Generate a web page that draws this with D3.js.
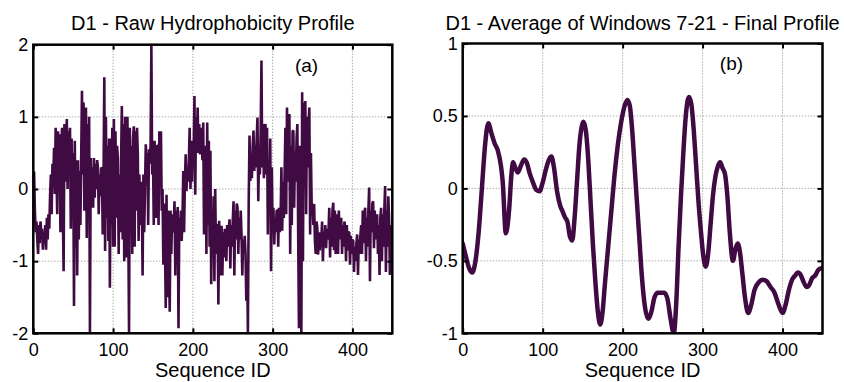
<!DOCTYPE html>
<html><head><meta charset="utf-8">
<script src="https://cdn.jsdelivr.net/npm/d3@7"></script>
<style>
body{margin:0;background:#fff}
svg{display:block}
text{font-family:"Liberation Sans",Arial,Helvetica,sans-serif;fill:#000}
</style>
</head><body>
<svg id="chart" width="844" height="382"></svg>
<script>
// ---------- data ----------
const rawValues = [
 0.23,-0.3,-0.6,-0.45,-0.7, -0.9,-0.5,-0.75,-0.45,-0.6, -0.55,-0.84,-0.6,-0.72,-0.5, -0.84,-0.4,-0.7,-0.35,-0.55,
 -0.1,0.2,-0.35,0.35,0.1, 0.57,-0.07,0.85,0.2,-0.35, 0.8,0.3,0.76,-0.6,0.5, 0.85,-0.3,-1.14,0.9,0.1,
 0.6,0.97,0.0,0.8,0.3, 0.85,-0.55,0.7,-0.2,0.5, -1.62,0.67,-0.8,0.4,-1.2, 0.4,-0.7,0.25,-0.5,0.38,
 1.36,0.2,1.2,-0.3,0.6, 1.13,-0.68,0.9,0.1,1.0, -2.0,0.43,-0.2,0.3,-0.26, 0.43,-0.12,0.35,0.0,0.4,
 0.3,-0.35,0.2,-0.1,0.28, 0.3,-0.63,0.1,1.55,-0.86, 1.0,-0.4,0.6,-0.72,0.7, -1.37,0.7,-0.5,0.85,-0.8,
 0.97,-0.8,0.8,-0.4,0.6, 0.43,-0.9,0.2,-0.6,0.35, 1.15,-0.7,0.9,-1.0,1.0, 0.8,-0.95,1.0,-0.4,-2.0,
 0.85,-0.5,0.6,-0.9,0.7, 0.87,-0.8,0.8,-0.3,0.85, 0.48,-0.72,0.2,-0.5,0.1, -0.1,-1.2,0.2,-0.6,0.0,
 0.62,0.3,0.5,-0.5,0.55, 0.35,0.6,2.0,0.2,0.5, -0.5,0.67,0.2,-0.4,0.6, 0.6,-0.5,0.8,0.1,0.8,
 -0.3,0.0,-1.05,-0.2,-0.7, -1.65,-0.08,-1.5,-0.3,-0.9, -1.7,-0.3,-0.9,-0.35,-0.6, -0.5,-0.17,-1.2,-0.3,-0.7,
 -0.25,-1.93,-0.4,-0.6,-0.3, -0.72,-0.4,0.25,-0.6,0.1, 0.48,-0.03,0.3,0.1,0.4, 0.85,0.0,0.67,0.1,0.6,
 0.5,1.29,-0.08,1.0,0.5, 1.13,0.5,0.9,0.48,0.8, 0.85,0.4,0.92,-0.63,0.3, 0.6,-0.9,0.92,-0.5,0.67,
 -0.8,0.53,-1.32,-0.3,-0.9, -0.1,-1.28,0.0,-0.9,-0.5, -0.5,-1.6,-0.44,-1.2,-0.6, -0.51,-1.2,-0.6,-0.95,-0.55,
 -0.6,-1.0,-0.5,-0.8,-0.55, -0.42,-1.1,-0.5,-0.8,-0.45, -0.17,-1.2,-0.3,-0.7,-0.2, -0.26,-0.9,-0.4,-0.7,-0.3,
 -0.63,-1.2,-0.7,-0.9,-0.65, -0.9,-1.55,-1.0,-2.0,-0.2, 0.74,0.11,0.5,0.15,0.6, 0.81,0.25,0.6,0.3,0.7,
 0.99,-0.17,0.5,0.2,0.8, 1.78,0.3,0.9,0.15,0.85, 0.9,0.2,0.85,-0.63,0.4, -0.2,0.7,-1.14,0.3,-0.6,
 -0.26,-0.77,-0.4,-0.6,-0.3, -0.3,-0.8,-0.26,-0.6,-0.4, 0.3,-0.58,0.1,-0.4,0.2, 0.85,-0.35,1.13,0.1,0.9,
 1.04,-0.9,0.6,-0.5,0.8, 0.81,-0.26,0.5,0.1,0.7, 0.9,-0.6,-1.93,0.6,-1.2, -2.0,1.34,-1.0,1.2,0.4,
 1.22,-0.35,1.0,0.3,0.9, 1.13,-0.63,0.5,-0.3,-0.2, -0.5,-0.21,-0.72,-0.9,-0.45, -0.54,-0.91,-0.6,-0.85,-0.7,
 -0.7,-0.45,-1.0,-0.6,-0.8, -0.5,-0.82,-0.55,-0.7,-0.6, -0.26,-0.95,-0.4,-0.8,-0.3, -0.19,-0.85,-0.3,-0.9,-0.4,
 -0.35,-0.9,-0.3,-0.7,-0.45, -0.4,-0.9,-0.5,-0.8,-0.45, -0.55,-1.0,-0.5,-0.85,-0.6, -0.6,-1.05,-0.65,-0.9,-0.7,
 -0.72,-1.15,-0.8,-1.0,-0.75, -0.63,-1.19,-0.7,-0.9,-0.65, -0.5,-0.9,-0.3,-0.75,-0.35, -0.26,-1.0,-0.4,-0.8,-0.3,
 0.02,-1.28,-0.3,-0.6,-0.2, -0.17,-0.82,-0.3,-0.7,-0.4, -0.35,-0.9,-0.5,-1.19,-0.4, -0.26,-1.0,-0.35,-0.8,-0.3,
 0.04,-1.15,-0.3,-0.8,-0.1, -0.44,-1.19,-0.5,-0.9,-0.6
];
const smoothPositions = [0,4,8,12,16,20,24,28,32,36,40,44,48,50,54,58,61,63,66,69,73,77,80,84,88,92,96,100,104,108,111,114,118,122,125,128,131,134,137,140,143,146,149,151,154,157,160,163,166,169,172,175,178,182,186,190,194,198,202,206,209,212,215,218,221,224,228,232,236,240,244,248,252,256,260,264,267,270,273,276,279,283,286,289,292,295,298,301,304,307,310,313,316,319,322,325,328,331,334,338,341,344,347,350,353,357,361,365,370,375,380,385,390,395,400,404,408,412,416,419,422,426,430,433,437,441,445,449];
const smoothValues = [-0.38,-0.47,-0.55,-0.58,-0.5,-0.3,0.0,0.3,0.45,0.38,0.31,0.26,0.15,0.05,-0.31,-0.15,0.1,0.18,0.14,0.11,0.16,0.2,0.18,0.1,0.04,-0.01,-0.02,0.04,0.13,0.2,0.22,0.15,-0.02,-0.12,-0.16,-0.2,-0.23,-0.33,-0.36,-0.2,0.05,0.3,0.43,0.46,0.4,0.2,-0.1,-0.4,-0.65,-0.85,-0.94,-0.85,-0.65,-0.4,-0.15,0.1,0.3,0.45,0.56,0.61,0.57,0.4,0.15,-0.1,-0.35,-0.6,-0.82,-0.9,-0.85,-0.75,-0.72,-0.72,-0.72,-0.76,-0.9,-1.0,-0.8,-0.4,-0.05,0.25,0.5,0.63,0.58,0.4,0.15,-0.1,-0.3,-0.47,-0.54,-0.45,-0.25,-0.05,0.08,0.15,0.18,0.14,0.1,-0.05,-0.3,-0.5,-0.42,-0.38,-0.45,-0.6,-0.75,-0.86,-0.8,-0.7,-0.65,-0.63,-0.64,-0.68,-0.72,-0.8,-0.86,-0.8,-0.7,-0.63,-0.6,-0.58,-0.59,-0.64,-0.68,-0.67,-0.62,-0.6,-0.56,-0.55];
const xTicks = [0,100,200,300,400];
const rawYTicks = [-2,-1,0,1,2];
const smoothYTicks = [-1,-0.5,0,0.5,1];
const panelTitles = ["D1 - Raw Hydrophobicity Profile","D1 - Average of Windows 7-21 - Final Profile"];
const panelTags = ["(a)","(b)"];
const xLabel = "Sequence ID";

// ---------- drawing ----------
const svg = d3.select("#chart");
const lineColor = "#400a42";

function drawPanel(o){
  const x = d3.scaleLinear().domain([0,450]).range([o.left,o.right]);
  const y = d3.scaleLinear().domain(o.yDomain).range([o.bottom,o.top]);
  const g = svg.append("g");

  // grid
  g.selectAll(".gx").data(xTicks).join("line")
    .attr("x1",d=>x(d)).attr("x2",d=>x(d)).attr("y1",o.top).attr("y2",o.bottom)
    .attr("stroke","#8a8a8a").attr("stroke-width",1).attr("stroke-dasharray","1,2");
  g.selectAll(".gy").data(o.yTicks).join("line")
    .attr("y1",d=>y(d)).attr("y2",d=>y(d)).attr("x1",o.left).attr("x2",o.right)
    .attr("stroke","#8a8a8a").attr("stroke-width",1).attr("stroke-dasharray","1,2");

  // clip
  const cid = "clip"+o.id;
  svg.append("defs").append("clipPath").attr("id",cid).append("rect")
    .attr("x",o.left).attr("y",o.top).attr("width",o.right-o.left).attr("height",o.bottom-o.top);

  const line = d3.line().x(d=>x(d[0])).y(d=>y(d[1]));
  if(o.curve) line.curve(o.curve);
  g.append("path").datum(o.points).attr("clip-path",`url(#${cid})`)
    .attr("d",line).attr("fill","none").attr("stroke",lineColor)
    .attr("stroke-width",o.lw).attr("stroke-linejoin",o.join).attr("stroke-linecap","round");

  // axes
  const fmt = d=>String(d);
  const ax = g.append("g").attr("transform",`translate(0,${o.bottom})`)
    .call(d3.axisBottom(x).tickValues(xTicks).tickSize(-5).tickPadding(10).tickFormat(fmt));
  const ay = g.append("g").attr("transform",`translate(${o.left},0)`)
    .call(d3.axisLeft(y).tickValues(o.yTicks).tickSize(-5).tickPadding(5).tickFormat(fmt));
  const at = g.append("g").attr("transform",`translate(0,${o.top})`)
    .call(d3.axisTop(x).tickValues(xTicks).tickSize(-5).tickFormat(""));
  const ar = g.append("g").attr("transform",`translate(${o.right},0)`)
    .call(d3.axisRight(y).tickValues(o.yTicks).tickSize(-5).tickFormat(""));
  [ax,ay,at,ar].forEach(a=>{
    a.select(".domain").remove();
    a.selectAll("line").attr("stroke","#000").attr("stroke-width",2);
    a.selectAll("text").attr("font-size",18).attr("fill","#000")
      .style("font-family","'Liberation Sans',Arial,sans-serif");
  });

  // box
  g.append("rect").attr("x",o.left).attr("y",o.top)
    .attr("width",o.right-o.left).attr("height",o.bottom-o.top)
    .attr("fill","none").attr("stroke","#000").attr("stroke-width",2.5);

  // titles & labels
  g.append("text").attr("x",(o.left+o.right)/2).attr("y",29.5)
    .attr("text-anchor","middle").attr("font-size",20).text(o.title);
  g.append("text").attr("x",(o.left+o.right)/2).attr("y",376.5)
    .attr("text-anchor","middle").attr("font-size",20).text(xLabel);
  g.append("text").attr("x",x(o.tagPos[0])).attr("y",y(o.tagPos[1]))
    .attr("font-size",19).text(o.tag);
}

drawPanel({
  id:"a", left:33.3, right:392.3, top:44.7, bottom:333.3,
  yDomain:[-2,2], yTicks:rawYTicks,
  points: rawValues.map((v,i)=>[i+1,v]),
  lw:2.6, join:"bevel", curve:null,
  title:panelTitles[0], tag:panelTags[0], tagPos:[328,1.62]
});
drawPanel({
  id:"b", left:462.7, right:822.5, top:43.5, bottom:333.3,
  yDomain:[-1,1], yTicks:smoothYTicks,
  points: smoothPositions.map((p,i)=>[p,smoothValues[i]]),
  lw:4.5, join:"round", curve:d3.curveMonotoneX,
  title:panelTitles[1], tag:panelTags[1], tagPos:[321.6,0.816]
});
</script>
</body></html>
